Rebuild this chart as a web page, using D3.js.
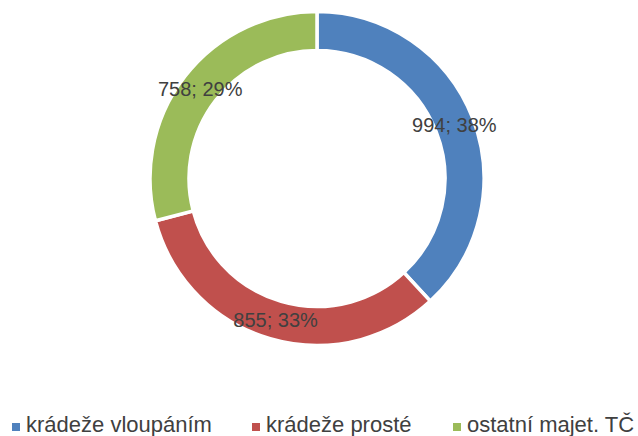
<html>
<head>
<meta charset="utf-8">
<title>donut</title>
<style>
  html, body { margin: 0; padding: 0; background: #fff; }
  svg text { font-family: 'Liberation Sans', Arial, sans-serif; fill: #404040; }
</style>
</head>
<body>
<div id="chart"></div>
<script src="https://cdnjs.cloudflare.com/ajax/libs/d3/7.8.5/d3.min.js"></script>
<script>
var categories = ['krádeže vloupáním', 'krádeže prosté', 'ostatní majet. TČ'];
var values = [994, 855, 758];
var percents = ['38%', '33%', '29%'];
var colors = ['#4F81BD', '#C0504D', '#9BBB59'];

var width = 638,
    height = 436,
    cx = 317,
    cy = 178.5,
    outerR = 167,
    innerR = 128;

var svg = d3.select('#chart').append('svg')
    .attr('width', width)
    .attr('height', height);

var pie = d3.pie().sort(null).value(function(d) { return d; });
var arc = d3.arc().innerRadius(innerR).outerRadius(outerR);
var color = d3.scaleOrdinal().domain(categories).range(colors);

var g = svg.append('g').attr('transform', 'translate(' + cx + ',' + cy + ')');
var arcs = pie(values);

g.selectAll('path.slice')
    .data(arcs)
    .enter().append('path')
    .attr('class', 'slice')
    .attr('d', arc)
    .attr('fill', function(d, i) { return color(categories[i]); })
    .attr('stroke', '#fff')
    .attr('stroke-width', 3.5);

g.selectAll('text.lbl')
    .data(arcs)
    .enter().append('text')
    .attr('class', 'lbl')
    .attr('transform', function(d) { return 'translate(' + arc.centroid(d) + ')'; })
    .attr('text-anchor', 'middle')
    .attr('dy', '0.36em')
    .style('font-size', '20px')
    .text(function(d, i) { return values[i] + '; ' + percents[i]; });

// legend
var legendX = [12, 252, 453];
var legend = svg.selectAll('g.leg')
    .data(categories)
    .enter().append('g')
    .attr('class', 'leg')
    .attr('transform', function(d, i) { return 'translate(' + legendX[i] + ',0)'; });

legend.append('rect')
    .attr('x', 0)
    .attr('y', 423)
    .attr('width', 8)
    .attr('height', 8)
    .attr('fill', function(d) { return color(d); });

legend.append('text')
    .attr('x', 14)
    .attr('y', 432)
    .style('font-size', '22px')
    .text(function(d) { return d; });
</script>
</body>
</html>
